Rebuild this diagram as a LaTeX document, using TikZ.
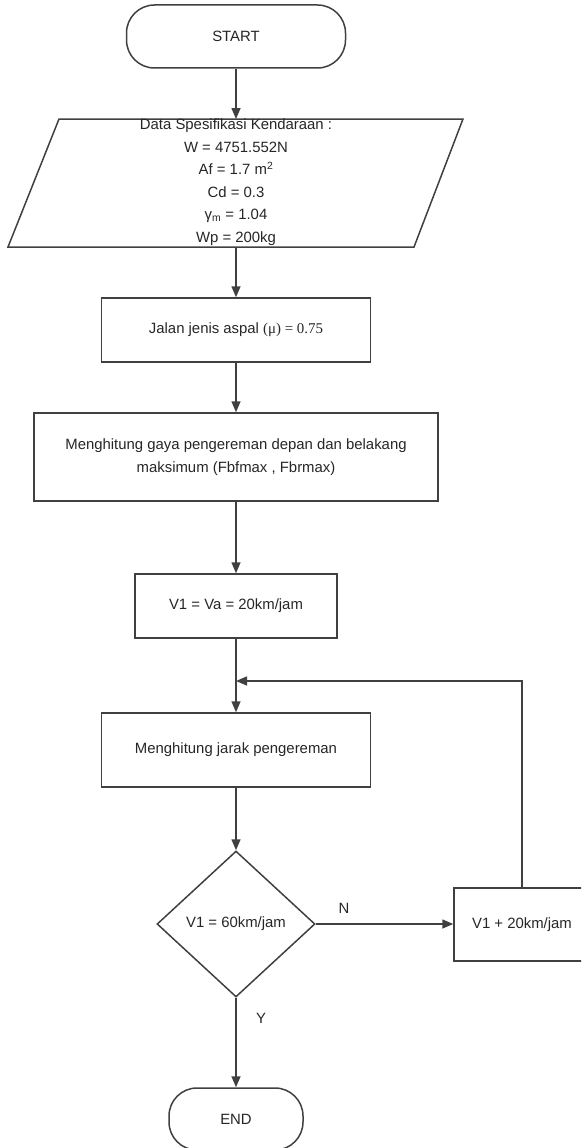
\documentclass[tikz,border=0pt]{standalone}
\usepackage{fontspec}
\setmainfont{Liberation Sans}
\newfontfamily\tnr{Liberation Serif}
\usetikzlibrary{shapes.geometric,arrows.meta}
\begin{document}
\begin{tikzpicture}[x=1pt,y=-1pt,
  every node/.style={font=\fontsize{14.9}{22.5}\selectfont, text=black!85},
  outline/.style={draw=black!75, line width=1.5pt},
  proc/.style={rectangle, outline, inner sep=0pt, align=center},
  term/.style={rectangle, rounded corners=28pt, outline, inner sep=0pt},
  decision/.style={diamond, outline, inner sep=0pt},
  arr/.style={draw=black!75, line width=1.5pt, -{Triangle[length=11pt,width=9pt]}},
  lbl/.style={inner sep=0pt}]
\clip (0,0) rectangle (581,1148);
% nodes
\node[term, minimum width=219pt, minimum height=63pt] (start) at (236,36.5) {START};
\draw[outline] (59,119) -- (463,119) -- (414,247) -- (8,247) -- cycle;
\coordinate (dtop) at (236,119);
\coordinate (dbot) at (236,247);
\node[inner sep=0pt, align=center] (data) at (236,182)
  {Data Spesifikasi Kendaraan :\\ W = 4751.552N\\ Af = 1.7 m\textsuperscript{2}\\ Cd = 0.3\\ γ\textsubscript{m} = 1.04\\ Wp = 200kg};
\node[proc, minimum width=269pt, minimum height=64pt] (jalan) at (236,330)
  {Jalan jenis aspal {\tnr(μ) = 0.75}};
\node[proc, minimum width=404pt, minimum height=88pt] (gaya) at (236,457)
  {Menghitung gaya pengereman depan dan belakang\\ maksimum (Fbfmax , Fbrmax)};
\node[proc, minimum width=202pt, minimum height=64pt] (va) at (236,606)
  {V1 = Va = 20km/jam};
\node[proc, minimum width=269pt, minimum height=74pt] (jarak) at (236,750)
  {Menghitung jarak pengereman};
\node[decision, minimum width=158pt, minimum height=146pt] (dec) at (236,924)
  {\makebox[0pt]{V1 = 60km/jam}};
\node[proc, minimum width=136pt, minimum height=73pt] (inc) at (522,924.5)
  {V1 + 20km/jam};
\node[term, minimum width=134pt, minimum height=62pt] (end) at (236,1119) {END};
\coordinate (join) at (236,681);
\node[lbl] (nlab) at (344,908) {N};
\node[lbl] (ylab) at (261,1018) {Y};
% connectors
\draw[arr] (start) -- (dtop);
\draw[arr] (dbot) -- (jalan);
\draw[arr] (jalan) -- (gaya);
\draw[arr] (gaya) -- (va);
\draw[arr] (va) -- (jarak);
\draw[arr] (jarak) -- (dec);
\draw[arr] (dec.east) -- (dec.east -| inc.west);
\draw[arr] (dec) -- (end);
\draw[arr] (inc.north) |- (join);
\end{tikzpicture}
\end{document}
